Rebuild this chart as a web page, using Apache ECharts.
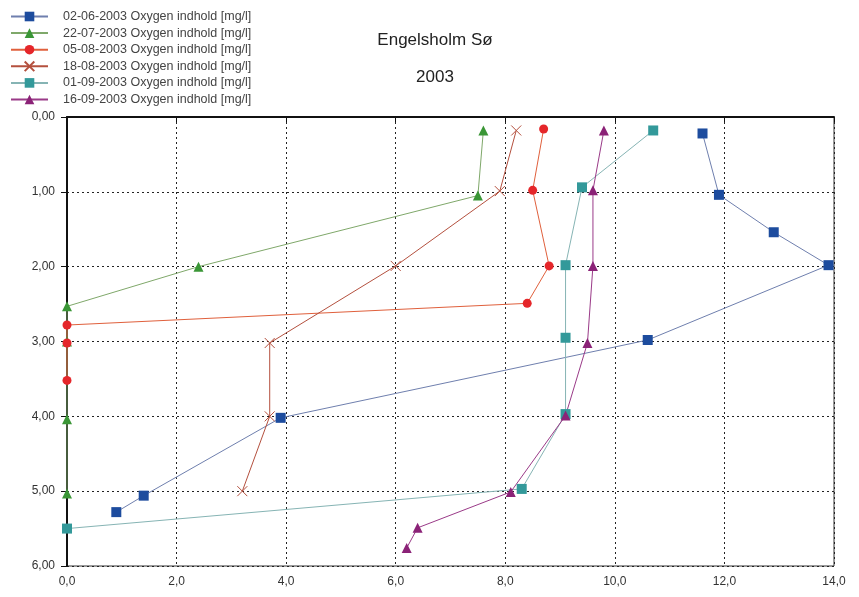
<!DOCTYPE html>
<html>
<head>
<meta charset="utf-8">
<script src="https://cdn.jsdelivr.net/npm/echarts@6/dist/echarts.min.js"></script>
<style>
html, body { margin: 0; padding: 0; background: #fff; }
#chart { width: 859px; height: 597px; }
</style>
</head>
<body>
<div id="chart"></div>
<script>
// oxygen [mg/l] vs depth [m], one list per sampling date
var names = [
    '02-06-2003 Oxygen indhold [mg/l]',
    '22-07-2003 Oxygen indhold [mg/l]',
    '05-08-2003 Oxygen indhold [mg/l]',
    '18-08-2003 Oxygen indhold [mg/l]',
    '01-09-2003 Oxygen indhold [mg/l]',
    '16-09-2003 Oxygen indhold [mg/l]'
];
var oxy0206 = [11.6, 11.9, 12.9, 13.9, 10.6, 3.9, 1.4, 0.9];
var dep0206 = [0.22, 1.04, 1.54, 1.98, 2.98, 4.02, 5.06, 5.28];
var oxy2207 = [7.6, 7.5, 2.4, 0, 0, 0, 0];
var dep2207 = [0.18, 1.05, 2.0, 2.53, 3.0, 4.04, 5.03];
var oxy0508 = [8.7, 8.5, 8.8, 8.4, 0, 0, 0];
var dep0508 = [0.16, 0.98, 1.99, 2.49, 2.78, 3.02, 3.52];
var oxy1808 = [8.2, 7.9, 6.0, 3.7, 3.7, 3.2];
var dep1808 = [0.18, 0.99, 1.99, 3.02, 4.0, 5.0];
var oxy0109 = [10.7, 9.4, 9.1, 9.1, 9.1, 8.3, 0];
var dep0109 = [0.18, 0.94, 1.98, 2.95, 3.97, 4.97, 5.5];
var oxy1609 = [9.8, 9.6, 9.6, 9.5, 9.1, 8.1, 6.4, 6.2];
var dep1609 = [0.18, 0.98, 1.99, 3.02, 3.99, 5.01, 5.49, 5.76];

var xTicks = [0, 2, 4, 6, 8, 10, 12, 14];
var yTicks = [0, 1, 2, 3, 4, 5, 6];

function pairs(xs, ys) {
    var out = [];
    for (var i = 0; i < xs.length; i++) out.push([xs[i], ys[i]]);
    return out;
}
function comma(v, d) {
    return v.toFixed(d).replace('.', ',');
}

var dom = document.getElementById('chart');
var myChart = echarts.init(dom);

var crossPath = 'path://M0,0L10,10M10,0L0,10';

function lineSeries(name, data, symbol, size, markColor, lineColor, extraItem) {
    var item = { color: markColor };
    if (extraItem) item = extraItem;
    return {
        name: name,
        type: 'line',
        data: data,
        symbol: symbol,
        symbolSize: size,
        showAllSymbol: true,
        animation: false,
        lineStyle: { color: lineColor, width: 1 },
        itemStyle: item
    };
}

var option = {
    backgroundColor: '#fff',
    textStyle: { fontFamily: 'Liberation Sans, Arial, sans-serif' },
    title: [
        { text: 'Engelsholm Sø', left: 430, top: 27, textAlign: 'center',
          textStyle: { fontSize: 17, fontWeight: 'normal', color: '#222' } },
        { text: '2003', left: 430, top: 64, textAlign: 'center',
          textStyle: { fontSize: 17, fontWeight: 'normal', color: '#222' } }
    ],
    legend: {
        orient: 'vertical',
        left: 10,
        top: 10,
        padding: 0,
        itemWidth: 37,
        itemHeight: 12,
        itemGap: 3.6,
        textStyle: { fontSize: 12.5, lineHeight: 12, color: '#444', padding: [0, 0, 0, 10] },
        data: names
    },
    grid: {
        left: 67, top: 117, right: 25, bottom: 31,
        show: true, borderColor: '#333', borderWidth: 1
    },
    xAxis: {
        type: 'value',
        min: 0, max: 14, interval: 2,
        axisLine: { lineStyle: { color: '#111', width: 2 } },
        axisTick: { show: true, length: 5, lineStyle: { color: '#111' } },
        axisLabel: { fontSize: 12, color: '#333', margin: 10,
            formatter: function (v) { return comma(v, 1); } },
        splitLine: { show: true, lineStyle: { color: '#222', type: [2, 3], width: 1 } }
    },
    yAxis: {
        type: 'value',
        inverse: true,
        min: 0, max: 6, interval: 1,
        axisLine: { show: true, onZero: false, lineStyle: { color: '#111', width: 2 } },
        axisTick: { show: true, length: 6, lineStyle: { color: '#111' } },
        axisLabel: { fontSize: 12, color: '#333', margin: 12,
            formatter: function (v) { return comma(v, 2); } },
        splitLine: { show: true, lineStyle: { color: '#222', type: [2, 3], width: 1 } }
    },
    series: [
        lineSeries(names[0], pairs(oxy0206, dep0206), 'rect', 10, '#1d4c9e', '#6f7fae'),
        lineSeries(names[1], pairs(oxy2207, dep2207), 'triangle', 10, '#3a9636', '#7fa86a'),
        lineSeries(names[2], pairs(oxy0508, dep0508), 'circle', 9, '#e5262a', '#e0603c'),
        lineSeries(names[3], pairs(oxy1808, dep1808), crossPath, 10, '#b4503e', '#b4503e',
            { color: 'rgba(0,0,0,0)', borderColor: '#b4503e', borderWidth: 1 }),
        lineSeries(names[4], pairs(oxy0109, dep0109), 'rect', 10, '#33999a', '#86b4b4'),
        lineSeries(names[5], pairs(oxy1609, dep1609), 'triangle', 10, '#8b2277', '#9a3a88')
    ]
};

if (option && typeof option === 'object') {
    myChart.setOption(option, true);
}
</script>
</body>
</html>
